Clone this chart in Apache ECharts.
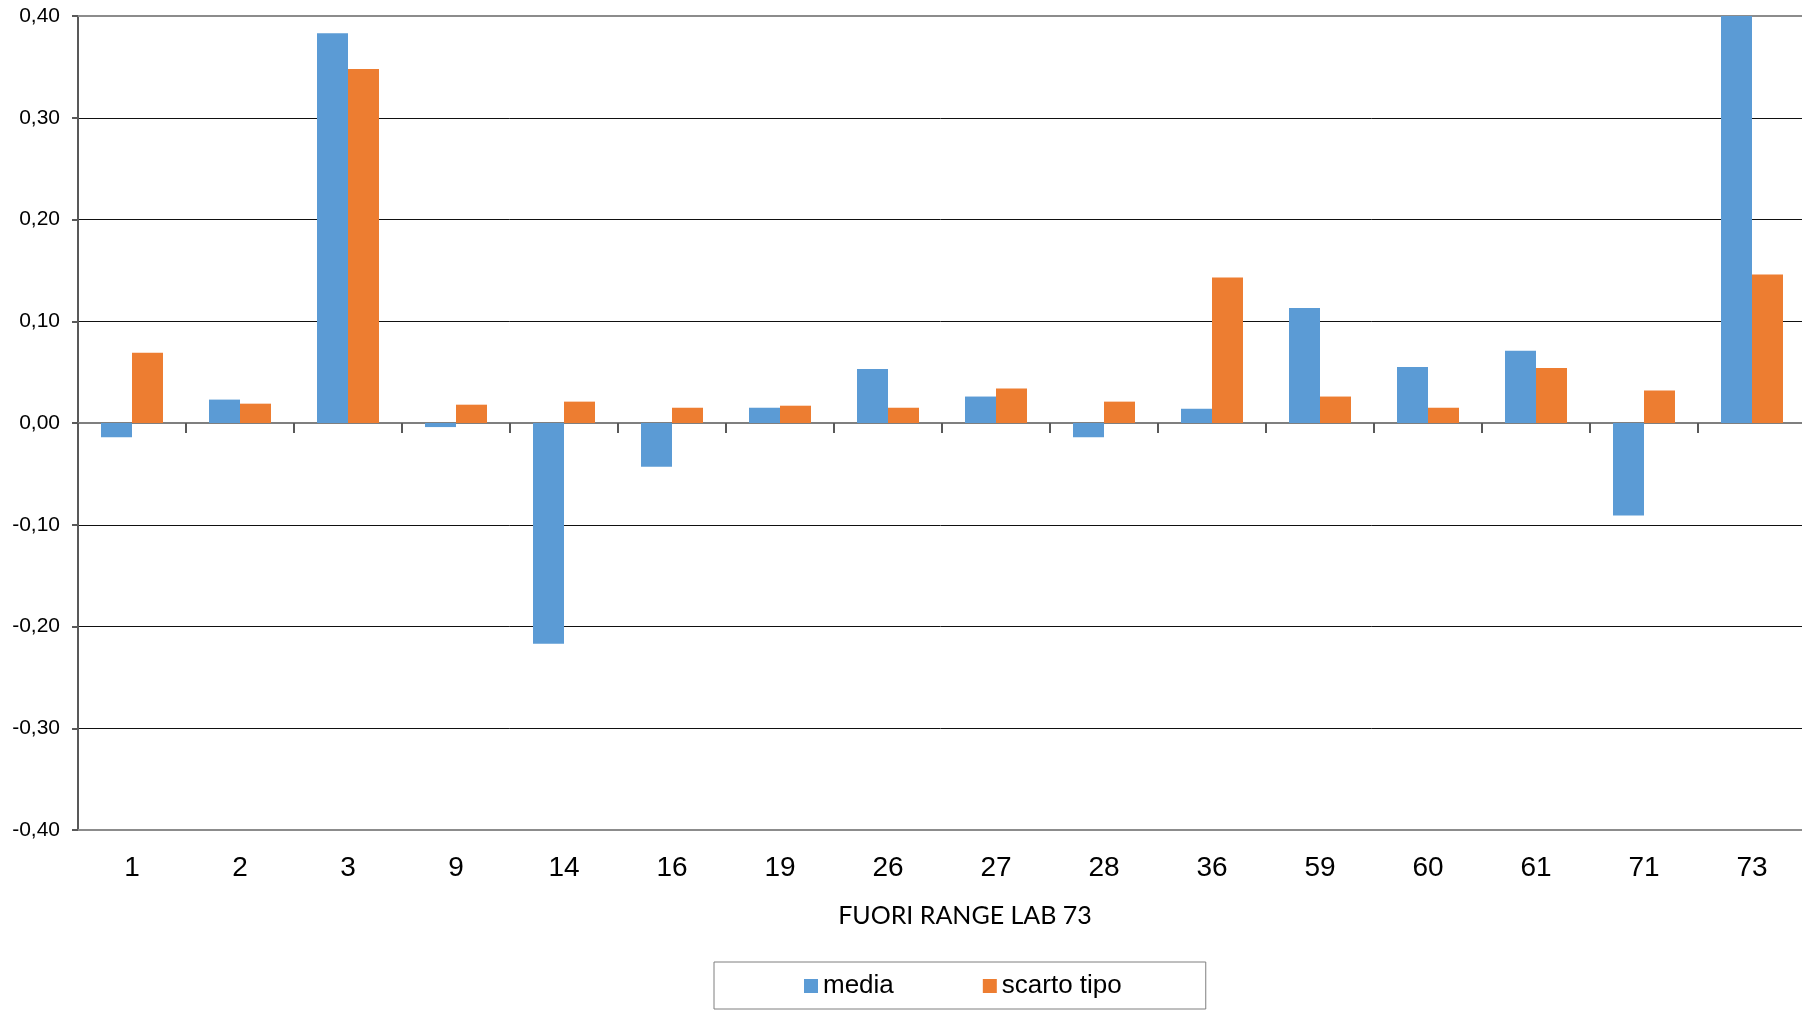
<!DOCTYPE html>
<html>
<head>
<meta charset="utf-8">
<script src="https://cdn.jsdelivr.net/npm/echarts@6/dist/echarts.min.js"></script>
<style>html,body{margin:0;padding:0;background:#fff;}#c{width:1802px;height:1010px;}</style>
</head>
<body>
<div id="c"></div>
<script>
var categories = ['1','2','3','9','14','16','19','26','27','28','36','59','60','61','71','73'];
var media = [-0.014, 0.023, 0.383, -0.004, -0.217, -0.043, 0.015, 0.053, 0.026, -0.014, 0.014, 0.113, 0.055, 0.071, -0.091, 0.40];
var scartoTipo = [0.069, 0.019, 0.348, 0.018, 0.021, 0.015, 0.017, 0.015, 0.034, 0.021, 0.143, 0.026, 0.015, 0.054, 0.032, 0.146];
var seriesNames = ['media', 'scarto tipo'];
var axisTitle = 'FUORI RANGE LAB 73';

var chart = echarts.init(document.getElementById('c'), null, {renderer: 'canvas'});
var font = '"Liberation Sans", Arial, sans-serif';
chart.setOption({
  animation: false,
  backgroundColor: '#fff',
  grid: {left: 78, width: 1728, top: 16, bottom: 180, containLabel: false, outerBoundsMode: 'none'},
  legend: {
    data: seriesNames,
    left: 714, top: 962,
    padding: [11, 84, 10, 90],
    itemGap: 89,
    itemWidth: 14, itemHeight: 14,
    icon: 'rect',
    borderColor: '#7f7f7f', borderWidth: 1,
    textStyle: {fontFamily: font, fontSize: 26, color: '#000'}
  },
  xAxis: [
    {
      type: 'category', data: categories, position: 'bottom',
      axisLine: {show: true, onZero: true, lineStyle: {color: '#7f7f7f', width: 2}},
      axisTick: {show: true, length: 10, interval: 0, lineStyle: {color: '#595959', width: 2}},
      axisLabel: {show: false},
      splitLine: {show: false}
    },
    {
      type: 'category', data: categories, position: 'bottom',
      axisLine: {show: true, onZero: false, lineStyle: {color: '#8c8c8c', width: 2}},
      axisTick: {show: false},
      axisLabel: {show: true, interval: 0, margin: 24, fontFamily: font, fontSize: 28, color: '#000'},
      name: axisTitle, nameLocation: 'middle', nameGap: 73,
      nameTextStyle: {fontFamily: 'Lato, "Open Sans", sans-serif', fontSize: 25, color: '#000', padding: [0, 0, 0, 46]}
    },
    {
      type: 'category', data: categories, position: 'top',
      axisLine: {show: true, onZero: false, lineStyle: {color: '#8c8c8c', width: 2}},
      axisTick: {show: false},
      axisLabel: {show: false}
    }
  ],
  yAxis: {
    type: 'value', min: -0.4, max: 0.4, interval: 0.1,
    axisLine: {show: true, lineStyle: {color: '#595959', width: 2}},
    axisTick: {show: true, length: 6, lineStyle: {color: '#595959', width: 2}},
    axisLabel: {
      margin: 18, fontFamily: font, fontSize: 21, color: '#000',
      formatter: function (v) { return v.toFixed(2).replace('.', ','); }
    },
    splitLine: {show: true, lineStyle: {color: '#111', width: 1}}
  },
  series: [
    {name: seriesNames[0], type: 'bar', xAxisIndex: 0, data: media, barGap: '0%', barCategoryGap: '42.6%',
     itemStyle: {color: '#5B9BD5'}},
    {name: seriesNames[1], type: 'bar', xAxisIndex: 0, data: scartoTipo, barGap: '0%', barCategoryGap: '42.6%',
     itemStyle: {color: '#ED7D31'}}
  ]
});
</script>
</body>
</html>
